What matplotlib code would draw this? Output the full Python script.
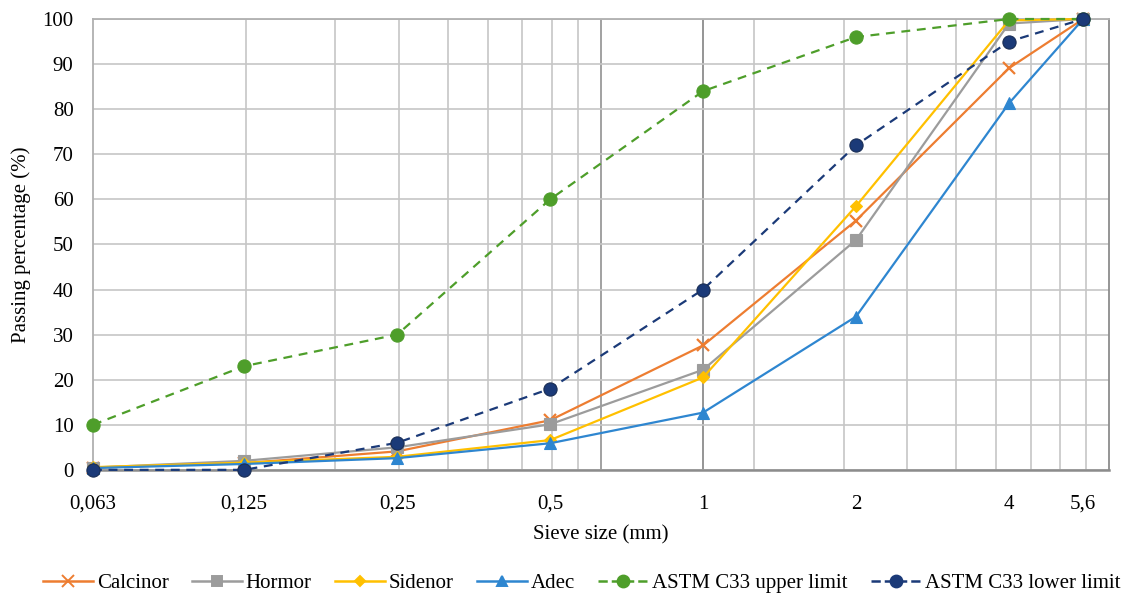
import matplotlib
matplotlib.use("Agg")
import matplotlib.pyplot as plt
from matplotlib.ticker import FixedLocator, NullFormatter
from matplotlib.lines import Line2D

plt.rcParams['font.family'] = ['Liberation Serif', 'DejaVu Serif']

# sieve sizes (mm) and passing percentages
sieve = [0.063, 0.125, 0.25, 0.5, 1, 2, 4, 5.6]
sieve_labels = ['0,063', '0,125', '0,25', '0,5', '1', '2', '4', '5,6']
calcinor = [0.5, 1.5, 4.1, 11.0, 27.6, 55.3, 89.1, 100]
hormor = [0.5, 2.0, 5.0, 10.1, 22.2, 51.0, 99.0, 100]
sidenor = [0.6, 1.6, 2.9, 6.6, 20.5, 58.5, 99.7, 100]
adec = [0.4, 1.3, 2.6, 5.9, 12.7, 34.0, 81.3, 100]
upper = [10, 23, 30, 60, 84, 96, 100, 100]
lower = [0, 0, 6, 18, 40, 72, 95, 100]

x_min, x_max = 0.063, 6.3

fig = plt.figure(figsize=(11.4, 5.94), dpi=100)
ax = fig.add_axes([0.0816, 0.209, 0.8914, 0.759])
ax.set_xscale('log')
ax.set_xlim(x_min, x_max)
ax.set_ylim(0, 100)

# Excel-style log gridlines starting from the axis minimum
minor = [x_min * 10 ** d * k for d in range(2) for k in range(2, 10)]
major = [x_min * 10 ** d for d in range(1, 2)]
for v in minor:
    ax.axvline(v, color='#C6C6C6', lw=1.2, zorder=0)
for v in major:
    ax.axvline(v, color='#9A9A9A', lw=1.3, zorder=0)
ax.axvline(1, color='#8C8C8C', lw=1.3, zorder=0)

ax.set_yticks(range(0, 101, 10))
ax.yaxis.grid(True, color='#C6C6C6', lw=1.2)
ax.set_axisbelow(True)

ax.xaxis.set_major_locator(FixedLocator(sieve))
ax.set_xticklabels(sieve_labels)
ax.xaxis.set_minor_formatter(NullFormatter())
ax.tick_params(axis='x', which='both', length=0, pad=18, labelsize=15)
ax.tick_params(axis='y', length=0, pad=14, labelsize=15)

for side in ['left', 'top']:
    ax.spines[side].set_color('#B0B0B0')
    ax.spines[side].set_linewidth(1.3)
ax.spines['right'].set_color('#8C8C8C')
ax.spines['right'].set_linewidth(1.3)
ax.spines['bottom'].set_color('#8C8C8C')
ax.spines['bottom'].set_linewidth(1.8)

series = [
    ('Calcinor', calcinor, '#ED7D31', 'x', '-', 9),
    ('Hormor', hormor, '#9C9C9C', 's', '-', 8),
    ('Sidenor', sidenor, '#FFC000', 'D', '-', 6),
    ('Adec', adec, '#2E86D0', '^', '-', 8),
    ('ASTM C33 upper limit', upper, '#4E9E2A', 'o', '--', 9.5),
    ('ASTM C33 lower limit', lower, '#1B3A78', 'o', '--', 9.5),
]

handles = []
for name, vals, color, mk, ls, ms in series:
    if mk == 'x':
        ax.plot(sieve, vals, color=color, lw=1.6, ls=ls, marker=mk, ms=ms,
                mew=1.6, clip_on=False, zorder=3)
    else:
        edge = '#1A2E55' if name.endswith('lower limit') else color
        ax.plot(sieve, vals, color=color, lw=1.6, ls=ls, marker=mk, ms=ms,
                mfc=color, mec=edge, mew=0.8, clip_on=False, zorder=3,
                dashes=(4, 3) if ls == '--' else (None, None))
    handles.append(Line2D([], [], color=color, lw=1.8, ls=ls, marker=mk,
                          ms=ms * 0.9, mfc=color, mec=color, mew=1.4,
                          label=name))

ax.set_xlabel('Sieve size (mm)', fontsize=15, labelpad=8)
ax.set_ylabel('Passing percentage (%)', fontsize=15, labelpad=8)

fig.legend(handles=handles, loc='lower center', ncol=6, frameon=False,
           fontsize=15, bbox_to_anchor=(0.51, -0.03), handlelength=2.4,
           handletextpad=0.2, columnspacing=1.1)

fig.savefig('out.png', dpi=100)
